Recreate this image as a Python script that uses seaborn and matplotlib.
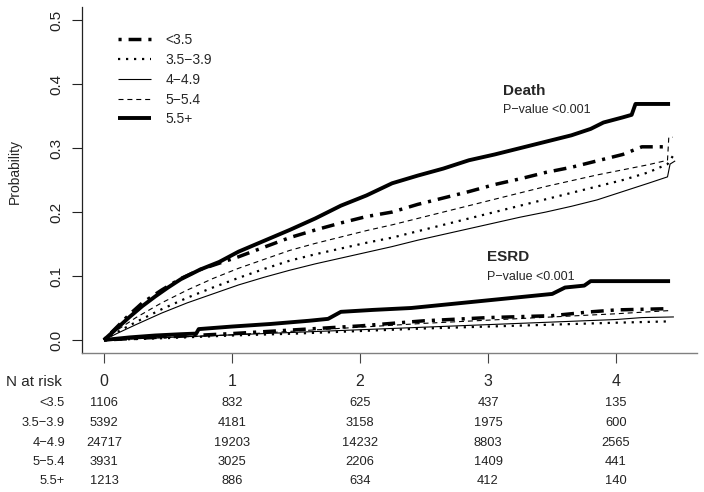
import numpy as np
import pandas as pd
import matplotlib
matplotlib.use("Agg")
import matplotlib.pyplot as plt
import seaborn as sns

# --- data ---
groups = ["<3.5", "3.5\u22123.9", "4\u22124.9", "5\u22125.4", "5.5+"]
risk_times = [0, 1, 2, 3, 4]
risk_lt35 = [1106, 832, 625, 437, 135]
risk_35_39 = [5392, 4181, 3158, 1975, 600]
risk_4_49 = [24717, 19203, 14232, 8803, 2565]
risk_5_54 = [3931, 3025, 2206, 1409, 441]
risk_55 = [1213, 886, 634, 412, 140]

# Death cumulative incidence
death_lt35_t = [0, 0.1, 0.2, 0.3, 0.45, 0.6, 0.75, 0.9, 1.05, 1.25, 1.45, 1.65, 1.85, 2.05, 2.25,
                2.45, 2.65, 2.85, 3.05, 3.25, 3.45, 3.65, 3.85, 4.05, 4.2, 4.38]
death_lt35_p = [0, 0.02, 0.04, 0.058, 0.078, 0.096, 0.11, 0.12, 0.13, 0.145, 0.16, 0.172, 0.183, 0.193, 0.2,
                0.212, 0.222, 0.232, 0.243, 0.252, 0.262, 0.27, 0.28, 0.29, 0.302, 0.302]
death_35_39_t = [0, 0.1, 0.25, 0.45, 0.65, 0.85, 1.05, 1.25, 1.45, 1.65, 1.85, 2.05, 2.25, 2.45, 2.65,
                 2.85, 3.05, 3.25, 3.45, 3.65, 3.85, 4.05, 4.25, 4.4, 4.45]
death_35_39_p = [0, 0.012, 0.028, 0.048, 0.066, 0.082, 0.097, 0.111, 0.124, 0.134, 0.143, 0.152, 0.16, 0.17, 0.18,
                 0.19, 0.2, 0.21, 0.22, 0.23, 0.24, 0.25, 0.262, 0.275, 0.29]
death_4_49_t = [0, 0.1, 0.25, 0.45, 0.65, 0.85, 1.05, 1.25, 1.45, 1.65, 1.85, 2.05, 2.25, 2.45, 2.65,
                2.85, 3.05, 3.25, 3.45, 3.65, 3.85, 4.05, 4.25, 4.4, 4.42, 4.46]
death_4_49_p = [0, 0.01, 0.024, 0.042, 0.058, 0.072, 0.086, 0.098, 0.109, 0.119, 0.128, 0.137, 0.146, 0.156, 0.165,
                0.174, 0.183, 0.192, 0.2, 0.209, 0.219, 0.232, 0.245, 0.255, 0.275, 0.28]
death_5_54_t = [0, 0.1, 0.25, 0.45, 0.65, 0.85, 1.05, 1.25, 1.45, 1.65, 1.85, 2.05, 2.25, 2.45, 2.65,
                2.85, 3.05, 3.25, 3.45, 3.65, 3.85, 4.05, 4.25, 4.4, 4.41, 4.44]
death_5_54_p = [0, 0.015, 0.035, 0.058, 0.078, 0.096, 0.112, 0.126, 0.14, 0.151, 0.161, 0.171, 0.18, 0.19, 0.2,
                0.21, 0.22, 0.23, 0.24, 0.249, 0.258, 0.266, 0.274, 0.281, 0.317, 0.317]
death_55_t = [0, 0.1, 0.2, 0.3, 0.4, 0.5, 0.6, 0.75, 0.9, 1.05, 1.25, 1.45, 1.65, 1.85, 2.05, 2.25, 2.45,
              2.65, 2.85, 3.05, 3.25, 3.45, 3.65, 3.8, 3.9, 4.05, 4.12, 4.15, 4.42]
death_55_p = [0, 0.018, 0.036, 0.053, 0.068, 0.082, 0.095, 0.110, 0.122, 0.138, 0.155, 0.172, 0.19, 0.21, 0.226,
              0.245, 0.257, 0.268, 0.281, 0.29, 0.3, 0.31, 0.32, 0.33, 0.34, 0.348, 0.352, 0.369, 0.369]

# ESRD cumulative incidence
esrd_lt35_t = [0, 0.5, 1.0, 1.5, 2.0, 2.5, 3.0, 3.5, 3.8, 4.0, 4.42]
esrd_lt35_p = [0, 0.005, 0.01, 0.016, 0.022, 0.03, 0.035, 0.038, 0.044, 0.047, 0.049]
esrd_35_39_t = [0, 0.5, 1.0, 1.5, 2.0, 2.5, 3.0, 3.5, 4.0, 4.4]
esrd_35_39_p = [0, 0.003, 0.007, 0.01, 0.014, 0.018, 0.021, 0.024, 0.027, 0.029]
esrd_4_49_t = [0, 0.5, 1.0, 1.5, 2.0, 2.5, 3.0, 3.5, 4.0, 4.2, 4.45]
esrd_4_49_p = [0, 0.004, 0.008, 0.012, 0.016, 0.02, 0.024, 0.028, 0.032, 0.035, 0.036]
esrd_5_54_t = [0, 0.5, 1.0, 1.5, 2.0, 2.5, 3.0, 3.5, 4.0, 4.42]
esrd_5_54_p = [0, 0.004, 0.008, 0.014, 0.02, 0.026, 0.031, 0.036, 0.041, 0.046]
esrd_55_t = [0, 0.2, 0.4, 0.6, 0.72, 0.74, 1.0, 1.3, 1.6, 1.75, 1.85, 2.1, 2.4, 2.7, 3.0, 3.3, 3.5,
             3.6, 3.75, 3.8, 4.42]
esrd_55_p = [0, 0.004, 0.007, 0.009, 0.01, 0.017, 0.021, 0.025, 0.03, 0.033, 0.044, 0.047, 0.05, 0.056,
             0.062, 0.068, 0.072, 0.082, 0.085, 0.092, 0.092]

# --- styling ---
sns.set_style("ticks")
plt.rcParams['font.family'] = ['Liberation Sans', 'DejaVu Sans']

styles = [
    dict(lw=2.5, ls=(0, (0.9, 2.0, 3.7, 2.0))),
    dict(lw=1.6, ls=(0, (1.0, 2.6))),
    dict(lw=0.8, ls='-'),
    dict(lw=0.8, ls=(0, (4.5, 3.5))),
    dict(lw=2.8, ls='-'),
]

death_curves = [(death_lt35_t, death_lt35_p), (death_35_39_t, death_35_39_p), (death_4_49_t, death_4_49_p),
                (death_5_54_t, death_5_54_p), (death_55_t, death_55_p)]
esrd_curves = [(esrd_lt35_t, esrd_lt35_p), (esrd_35_39_t, esrd_35_39_p), (esrd_4_49_t, esrd_4_49_p),
               (esrd_5_54_t, esrd_5_54_p), (esrd_55_t, esrd_55_p)]

fig = plt.figure(figsize=(7.04, 4.92), dpi=100)
ax = fig.add_axes([0.116, 0.283, 0.874, 0.702])

handles = []
for (t, p), st, g in zip(death_curves, styles, groups):
    sns.lineplot(x=t, y=p, ax=ax, color='black', linewidth=st['lw'], linestyle=st['ls'],
                 estimator=None, sort=False, solid_capstyle='butt', dash_capstyle='butt')
    line = ax.lines[-1]
    line.set_label(g)
    handles.append(line)
for (t, p), st in zip(esrd_curves, styles):
    sns.lineplot(x=t, y=p, ax=ax, color='black', linewidth=st['lw'], linestyle=st['ls'],
                 estimator=None, sort=False, solid_capstyle='butt', dash_capstyle='butt')

ax.set_xlim(-0.174, 4.63)
ax.set_ylim(-0.02, 0.52)
ax.set_xticks(risk_times)
ax.set_xticklabels([])
ax.set_yticks([0.0, 0.1, 0.2, 0.3, 0.4, 0.5])
ax.set_yticklabels(["0.0", "0.1", "0.2", "0.3", "0.4", "0.5"], rotation=90, va='center')
ax.tick_params(axis='y', length=7, width=0.8, pad=6, labelsize=11, colors='#222222')
ax.tick_params(axis='x', length=7, width=0.8, colors='#444444')
ax.spines['top'].set_visible(False)
ax.spines['right'].set_visible(False)
ax.spines['left'].set_color('#222222')
ax.spines['left'].set_linewidth(0.9)
ax.spines['bottom'].set_color('#808080')
ax.spines['bottom'].set_linewidth(1.0)
ax.set_xlabel('')
ax.set_ylabel('Probability', fontsize=10)
ax.yaxis.set_label_coords(-0.097, 0.526)

leg = ax.legend(handles=handles, loc='upper left', bbox_to_anchor=(118 / 704, 1 - 33 / 492),
                bbox_transform=fig.transFigure, frameon=False, fontsize=10, handlelength=2.4,
                handletextpad=1.0, labelspacing=0.42, borderpad=0, borderaxespad=0)

# annotations
ax.text(3.117, 0.389, "Death", fontsize=11, fontweight='bold', va='center', ha='left')
ax.text(3.117, 0.359, "P\u2212value <0.001", fontsize=9, va='center', ha='left')
ax.text(2.99, 0.13, "ESRD", fontsize=11, fontweight='bold', va='center', ha='left')
ax.text(2.99, 0.098, "P\u2212value <0.001", fontsize=9, va='center', ha='left')

# risk table
fig.text(6 / 704, 1 - 382 / 492, "N at risk", fontsize=11, ha='left', va='center')
for k in risk_times:
    fig.text((104 + 128 * k) / 704, 1 - 382 / 492, str(k), fontsize=11.5, ha='center', va='center')

risk_rows = [risk_lt35, risk_35_39, risk_4_49, risk_5_54, risk_55]
row_y = [403, 423, 443, 462, 481]
for g, row, y in zip(groups, risk_rows, row_y):
    fig.text(65 / 704, 1 - y / 492, g, fontsize=9.3, ha='right', va='center', color='#222222')
    for k, n in zip(risk_times, row):
        fig.text((104 + 128 * k) / 704, 1 - y / 492, str(n), fontsize=9.3, ha='center', va='center',
                 color='#222222')

fig.savefig("out.png", dpi=100)
